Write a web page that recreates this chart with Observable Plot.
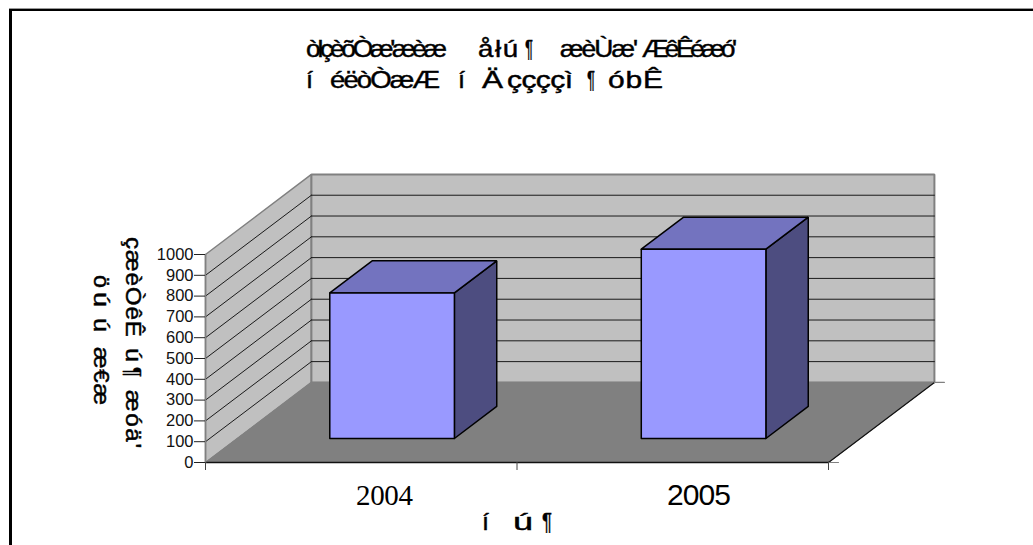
<!DOCTYPE html>
<html><head><meta charset="utf-8">
<script src="https://cdn.jsdelivr.net/npm/d3@7"></script>
<script src="https://cdn.jsdelivr.net/npm/@observablehq/plot@0.6"></script>
<style>
html,body{margin:0;padding:0;background:#fff;overflow:hidden}
#wrap{position:relative;width:1033px;height:545px}
#wrap svg{position:absolute;left:0;top:0;overflow:visible;background:transparent}
#top{position:absolute;left:9px;top:9px;right:0;height:2px;background:#000;box-shadow:0 -1px 0 #999}
#left{position:absolute;left:9px;top:9px;bottom:0;width:3px;background:#000}
.run{position:absolute;white-space:pre;line-height:1;color:#000;transform-origin:0 0;z-index:2}
</style></head><body><div id="wrap"><div id="top"></div><div id="left"></div></div>
<script>
const years = ["2004", "2005"];
const values = [700, 910];
const yTicks = [0,100,200,300,400,500,600,700,800,900,1000];
const xTicks = [0,1,2];
// text runs: [text, start, extent, stretch]
const titleLine1 = [["òłçèõÒæ'æèæ",306,141,1.1],["åłú",478,40,1.15],["¶",525,8],["æèÙæ'",560,78,1.1],["ÆêÊéæó'",642,95,1.1]];
const titleLine2 = [["í",306,7],["éëòÒæÆ",330,110,1.15],["í",458,7],["Ä",482,21],["ççççì",507,66,1.25],["¶",587,8],["óbÊ",608,55,1.25]];
const yLabelLine1 = [["çæèÒêÊ",237,100,1.1],["ú",348,14],["¶",367,10],["æóä'",390,58,1.1]];
const yLabelLine2 = [["ö",275,13],["ú",292,15],["ú",318,14],["æ€æ",347,58,1.1]];
const xTitleRuns = [["í",482,7],["ú",513,20],["¶",542,10]];

// oblique depth: one unit of depth moves along the category and value axes
const DX = 0.34, DY = 385;
const P = (c,v,d=0) => ({x:c+DX*d, y:v+DY*d});
const face = pts => { const r = pts.map(p=>P(...p)); r.push(r[0]); return r; };
const poly = (pts,fill,stroke,w=1.5) => Plot.line(face(pts),{x:"x",y:"y",fill,stroke,strokeWidth:w,strokeLinejoin:"miter",curve:"linear"});
const seg = (a,b,stroke,w=1) => Plot.line([P(...a),P(...b)],{x:"x",y:"y",stroke,strokeWidth:w});

const marks = [
  poly([[0,0,0],[0,1000,0],[0,1000,1],[0,0,1]],"#c0c0c0","#808080"),
  poly([[0,0,1],[0,1000,1],[2,1000,1],[2,0,1]],"#c0c0c0","#808080",2),
  poly([[0,0,0],[0,0,1],[2,0,1],[2,0,0]],"#808080","#808080",1),
];
for (const v of yTicks.slice(1,-1)) {
  marks.push(seg([0,v,0],[0,v,1],"#1a1a1a"));
  marks.push(seg([0,v,1],[2,v,1],"#1a1a1a"));
}
marks.push(seg([0,0,0],[2,0,0],"#111",1.5));
marks.push(seg([2,0,0],[2,0,1],"#111",1.2));
marks.push(seg([0,0,0],[0,1000,0],"#808080",1.5));
marks.push(seg([2,0,0],[2.032,0,0],"#808080",1.2));
marks.push(seg([2,0,1],[2.032,0,1],"#808080",1.2));
values.forEach((v,i)=>{
  const a=i+0.297,b=i+0.697,d0=0.3,d1=0.7;
  marks.push(poly([[b,0,d0],[b,v,d0],[b,v,d1],[b,0,d1]],"#4d4d80","#000"));
  marks.push(poly([[a,v,d0],[a,v,d1],[b,v,d1],[b,v,d0]],"#7373bf","#000"));
  marks.push(poly([[a,0,d0],[a,v,d0],[b,v,d0],[b,0,d0]],"#9999ff","#000"));
});
marks.push(Plot.axisY(yTicks,{anchor:"left",label:null,tickSize:11,tickPadding:1,fontSize:16.5,fontFamily:"Liberation Sans",tickFormat:d=>String(d),stroke:"#222",fill:"#111"}));
marks.push(Plot.axisX(xTicks,{anchor:"bottom",label:null,tickSize:8,tickFormat:()=>"",stroke:"#444"}));

const chart = Plot.plot({width:1033,height:545,marginLeft:205,marginRight:205,marginTop:254,marginBottom:83,
  x:{domain:[0,2],axis:null},y:{domain:[0,1000],axis:null},marks});
const wrap = document.getElementById("wrap");
wrap.append(chart);

// overlay text; each run is fitted to its extent by a small stretch plus letter-spacing
function addRun(text,start,extent,stretch,{baseline,size=24,family="Liberation Sans",vertical=false,heavy=0.45}){
  const el=document.createElement("div"); el.className="run"; el.textContent=text;
  el.style.fontFamily=family==="Liberation Serif"?"'Liberation Serif','Times New Roman',serif":`'${family}'`;
  el.style.fontSize=size+"px";
  if(heavy) el.style.webkitTextStroke=heavy+"px #000";
  wrap.append(el);
  const natural=el.getBoundingClientRect().width;
  const n=[...text].length;
  let s=stretch||1, ls=0;
  if(n===1) s=extent/natural; else ls=(extent/s-natural)/(n-1);
  el.style.letterSpacing=ls+"px";
  const bOff=(family==="Liberation Serif"?0.8375:0.8465)*size;
  if(vertical){
    el.style.left=(baseline+bOff)+"px"; el.style.top=start+"px";
    el.style.transform=`rotate(90deg) scaleX(${s})`;
  } else {
    el.style.left=start+"px"; el.style.top=(baseline-bOff)+"px";
    el.style.transform=`scaleX(${s})`;
  }
}
for(const [t,a,w,s] of titleLine1) addRun(t,a,w,s,{baseline:57});
for(const [t,a,w,s] of titleLine2) addRun(t,a,w,s,{baseline:88});
for(const [t,a,w,s] of yLabelLine1) addRun(t,a,w,s,{baseline:125,size:22,vertical:true});
for(const [t,a,w,s] of yLabelLine2) addRun(t,a,w,s,{baseline:93,size:22,vertical:true});
for(const [t,a,w,s] of xTitleRuns) addRun(t,a,w,s,{baseline:530});
addRun(years[0],356,57,1,{baseline:505,size:29,family:"Liberation Serif",heavy:0});
addRun(years[1],667,64,1,{baseline:505,size:30,heavy:0});
</script></body></html>
